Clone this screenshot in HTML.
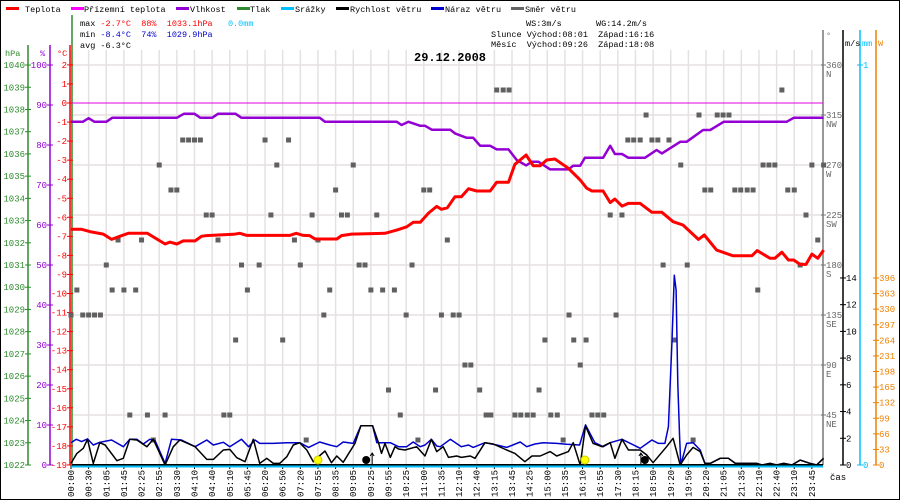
<!DOCTYPE html>
<html><head><meta charset="utf-8">
<style>
html,body{margin:0;padding:0;background:#fff;}
svg{display:block;font-family:"Liberation Mono",monospace;}
svg text{white-space:pre;}
</style></head>
<body>
<svg id="chart" width="900" height="500" viewBox="0 0 900 500" xmlns="http://www.w3.org/2000/svg" xml:space="preserve">
<rect x="0.5" y="0.5" width="899" height="499" fill="#fff" stroke="#000"/>
<g id="grid"></g>
<g id="legend" font-size="8.5">
  <g><rect x="6" y="7" width="13" height="3" fill="#f00"/><text x="25" y="12">Teplota</text></g>
  <g><rect x="71" y="7" width="13" height="3" fill="#f0f"/><text x="84" y="12">Přízemní teplota</text></g>
  <g><rect x="176" y="7" width="13" height="3" fill="#9400d3"/><text x="190" y="12">Vlhkost</text></g>
  <g><rect x="237" y="7" width="13" height="3" fill="#2e8b2e"/><text x="250" y="12">Tlak</text></g>
  <g><rect x="281" y="7" width="13" height="3" fill="#00bfff"/><text x="295" y="12">Srážky</text></g>
  <g><rect x="336" y="7" width="13" height="3" fill="#000"/><text x="350" y="12">Rychlost větru</text></g>
  <g><rect x="431" y="7" width="13" height="3" fill="#00c"/><text x="445" y="12">Náraz větru</text></g>
  <g><rect x="511" y="7" width="13" height="3" fill="#666"/><text x="525" y="12">Směr větru</text></g>
</g>
<g id="stats" font-size="8.5">
  <text x="80" y="26">max <tspan fill="#f00">-2.7°C  88%  1033.1hPa</tspan>   <tspan fill="#00bfff">0.0mm</tspan></text>
  <text x="80" y="37">min <tspan fill="#00c">-8.4°C</tspan>  <tspan fill="#00c">74%  1029.9hPa</tspan></text>
  <text x="80" y="48">avg -6.3°C</text>
  <text x="526" y="26">WS:3m/s</text><text x="596" y="26">WG:14.2m/s</text>
  <text x="491" y="37">Slunce Východ:08:01  Západ:16:16</text>
  <text x="491" y="47">Měsíc  Východ:09:26  Západ:18:08</text>
</g>
<text x="414" y="61" font-size="12" font-weight="bold">29.12.2008</text>
<g id="axes"></g>
<g id="series"></g>
</svg>
<script>
// ---- data (sample index k, ~3 samples per time label) ----
const timeLabels = ["00:00","00:30","01:05","01:45","02:25","02:55","03:30","04:10","04:40","05:10","05:45","06:20","06:50","07:20","07:55","08:35","09:05","09:25","09:55","10:25","11:00","11:35","12:10","12:40","13:15","13:45","14:25","15:00","15:35","16:10","16:55","17:30","18:15","18:50","19:20","19:50","20:20","21:05","21:35","22:10","22:40","23:10","23:45"];
const hpaTicks = [1040,1039,1038,1037,1036,1035,1034,1033,1032,1031,1030,1029,1028,1027,1026,1025,1024,1023,1022];
const humTicks = [100,90,80,70,60,50,40,30,20,10,0];
const tempTicks = [2,1,0,-1,-2,-3,-4,-5,-6,-7,-8,-9,-10,-11,-12,-13,-14,-15,-16,-17,-18,-19];
const dirTicks = [360,315,270,225,180,135,90,45];
const dirNames = ["N","NW","W","SW","S","SE","E","NE"];
const windTicks = [14,12,10,8,6,4,2,0];
const wattTicks = [396,363,330,297,264,231,198,165,132,99,66,33,0];

const tempK = [0,1.8,3.2,5.5,6.9,8.3,9.75,13,16,16.8,18,19.1,21.1,22.2,23,27.6,28.7,29.9,37.2,38.3,39.5,40.6,41.5,45.2,46,47.7,53.4,55.4,57.1,58.2,59.4,60.8,62.2,63,64,65.3,66.4,67.6,69,71.3,72.4,74.4,75.5,77.4,78.6,79.8,80.9,82.3,84.6,86.6,87.7,88.6,90.5,91.7,92.5,93.7,94.8,96.8,98.8,100.5,102.4,104.1,106.7,107.7,109.8,112.6,115.8,116.7,118.9,119.7,120.9,122,122.9,124,125,126,127,128];
const tempV = [-6.63,-6.63,-6.75,-6.88,-7.16,-7.0,-6.84,-6.84,-7.4,-7.3,-7.4,-7.24,-7.24,-7.0,-6.96,-6.89,-6.84,-6.95,-6.95,-6.84,-6.95,-6.96,-7.14,-7.14,-6.96,-6.88,-6.84,-6.67,-6.5,-6.26,-6.26,-5.78,-5.43,-5.58,-5.5,-4.92,-4.92,-4.5,-4.62,-4.62,-4.16,-4.16,-3.22,-2.73,-3.29,-3.29,-2.99,-2.94,-3.43,-4.04,-4.47,-4.62,-4.62,-5.23,-5.04,-5.41,-5.27,-5.27,-5.74,-5.74,-6.23,-6.41,-7.16,-6.93,-7.72,-8.02,-8.02,-7.75,-8.15,-8.15,-7.83,-8.24,-8.24,-8.47,-8.47,-7.93,-8.15,-7.72];

const humK = [0,2,3,4,6,7,18,19.2,21,22,24,25,28,29,42.3,43.2,55.4,56.2,57.4,59.4,60.2,61.4,64.5,65.3,67.3,68.4,69.6,71.3,72.4,74.4,75.8,77.4,78.4,79.5,81.5,84.6,85.4,86.6,87.4,90.5,91.7,92.5,93.7,94.8,97.6,99.6,100.5,103.6,104.7,107.5,108.7,111,121.7,122.9,128];
const humV = [85.8,85.8,86.7,85.8,85.8,86.8,86.8,87.8,87.8,86.8,86.8,87.8,87.8,86.8,86.8,85.8,85.8,85,85.8,84.8,84.8,83.8,83.8,82.9,81.8,81.8,79.8,79.8,78.9,78.9,76.25,74.9,75.8,75.8,73.9,73.9,74.8,74.8,76.8,76.8,79.8,77.75,77.75,76.8,76.8,78.75,77.9,80.8,80.8,83.75,83.75,85.8,85.8,86.8,86.8];

const windK = [0,1,2.1,2.8,3.8,4.9,5.8,7.8,8.9,10,11.2,12.9,14,16,17.4,18.5,21.1,23.1,24.2,25.9,27,28.2,29.6,31,32.1,33.3,34.4,35.5,36.7,37.8,38.9,40.1,41.2,42.1,43.2,44.3,45.2,46.3,48.3,49.3,51.3,52.3,52.8,53.4,54.3,55.1,55.7,56.8,58.8,60.2,61.3,62.2,63.3,64.2,65.6,66.4,67.9,68.7,70.4,71.8,74.1,75.5,77.2,78.4,79.8,81.5,82.6,84.6,85.4,86.6,87.5,88.8,90.3,91.7,92.5,93.7,94.8,96.8,97.9,99,101.3,102.4,103.6,104.7,105.8,107,107.8,108.7,110.4,111.8,113,116.6,117.5,118.9,120,121.2,122.6,124,125.7,126.8,128];
const windV = [0.12,0.87,1.25,1.92,0.12,1.67,1.5,0.32,0.5,1.92,1.87,1.37,1.92,0,1.37,1.87,1.37,0.42,0.42,1.12,1.17,0.55,0.25,1.92,0.12,0.5,0.12,0.12,0.62,1.5,1.67,1.12,0.25,0.62,1.05,0.17,0.67,0.2,1.62,2.94,2.94,1.67,0.87,1.62,0.57,1.37,1.2,1.12,1.37,0.67,1.92,1.0,1.37,0.57,0.67,0.57,0.67,0.5,1.67,1.57,1.12,0.87,0.25,0.67,0.67,1.0,0.67,1.0,1.67,0,2.92,1.62,1.37,1.67,0.5,1.92,1.12,1.12,0.75,0.17,1.37,2.0,0,0.75,1.32,1.0,0.12,0.12,0.5,0.5,0.12,0.12,0,0.12,0,0.12,0,0.37,0.12,0,0.5];

const gustK = [0,0.9,1.8,2.8,3.8,4.9,6.9,8.9,10,11.2,12.3,13.4,14.3,16,17.1,18.8,21.1,23.1,24.2,25.9,27,29,30.2,31.3,32.1,34.4,36.7,38.9,40.4,42.3,44,45.2,46.3,48,49.3,51.3,52,54.3,55.7,57.1,58.2,59.4,60.2,61.3,62.2,62.8,64.5,66.4,67.6,68.4,70.4,72.4,74.1,76.4,77.5,78.9,80.3,82.6,84.3,86.5,87.5,89.1,90.5,91.7,93.7,96.8,98.8,99.9,101,101.6,102.2,102.6,102.9,103.2,103.5,103.7,104.7,105.8,107,107.8,108.7,110.4,111.8,113,116.6,117.5,118.9,120,121.2,122.6,124,125.7,126.8,128];
const gustV = [1.67,1.92,1.75,1.95,1.5,1.7,1.87,1.37,1.92,1.92,1.57,1.92,1.82,0.12,1.92,1.87,1.37,1.87,1.5,1.7,1.37,1.92,1.37,1.87,1.62,1.62,1.67,1.67,1.32,1.72,1.5,1.37,1.72,1.62,2.94,2.94,1.67,1.67,1.37,1.37,1.72,1.37,1.5,1.92,1.42,1.37,1.92,1.37,1.5,1.32,1.67,1.5,1.32,1.72,1.37,1.57,1.67,1.62,1.55,1.5,3.0,1.67,1.37,1.67,1.92,1.25,1.87,1.62,1.62,2.87,9.1,14.2,13.1,6.1,2.12,0,1.62,1.67,1.12,0.12,0.12,0.5,0.5,0.12,0.12,0,0.12,0,0.12,0,0.37,0.12,0,0.5];

const dirK = [0,1,2,3,4,5,6,7,8,9,10,11,12,13,14,15,16,17,18,19,20,21,22,23,24,25,26,27,28,29,30,32,33,34,35,36,37,38,39,40,41,42,43,44,45,46,47,48,49,50,51,52,53,54,55,56,57,58,59,60,61,62,63,64,65,66,67,68,69.5,70.6,71.4,72.4,73.5,74.5,75.5,76.5,77.6,78.6,79.6,80.6,81.6,82.7,83.7,84.7,85.5,86.6,87.6,88.6,89.6,90.6,91.7,92.7,93.7,94.7,95.7,96.8,97.8,98.8,99.8,100.7,101.7,102.7,103.7,104.8,105.8,106.8,107.8,108.8,109.9,110.9,111.9,112.9,113.9,115,116,116.8,117.7,118.7,119.7,120.9,121.9,123,124,125,126,127,128];
const dirV = [135,157.5,135,135,135,135,180,157.5,202.5,157.5,45,157.5,202.5,45,22.5,270,45,247.5,247.5,292.5,292.5,292.5,292.5,225,225,202.5,45,45,112.5,180,157.5,180,292.5,225,270,112.5,292.5,202.5,180,22.5,225,202.5,135,157.5,247.5,225,225,270,180,180,157.5,225,157.5,67.5,157.5,45,135,180,22.5,247.5,247.5,67.5,135,202.5,135,135,90,90,67.5,45,45,337.5,337.5,337.5,45,45,45,45,67.5,112.5,45,45,22.5,135,112.5,90,112.5,45,45,45,225,135,225,292.5,292.5,292.5,315,292.5,292.5,180,292.5,112.5,270,180,22.5,315,247.5,247.5,315,315,315,247.5,247.5,247.5,247.5,157.5,270,270,270,337.5,247.5,247.5,180,225,270,202.5,270];

const sunEvents = [42.0, 87.4];   // sunrise, sunset (sample index)
const moonEvents = [50.2, 97.6];  // moonrise, moonset

// ---- scales ----
const X0 = 71, DX = 5.88;
const xK = k => X0 + k * DX;
const yT = t => 103 - t * 19.05;
const yP = p => 465 - (p - 1022) * 22.22;
const yH = h => 465 - h * 4;
const yD = d => 465 - d * 400 / 360;
const yW = v => 465 - v * 13.36;
const yWatt = w => 465 - w * 187 / 396;

const NS = "http://www.w3.org/2000/svg";
function mk(parent, tag, attrs, txt) {
  const e = document.createElementNS(NS, tag);
  for (const a in attrs) e.setAttribute(a, attrs[a]);
  if (txt !== undefined) e.textContent = txt;
  parent.appendChild(e);
  return e;
}
const grid = document.getElementById('grid');
const axes = document.getElementById('axes');
const series = document.getElementById('series');

timeLabels.forEach((lab, i) => {
  const x = xK(i * 3);
  const l = mk(grid, 'line', {x1: x, x2: x, y1: 50, y2: 465, stroke: '#e6e1e1', 'stroke-width': 1.5});
  
  
  const t = mk(axes, 'text', {transform: `translate(${x + 3},497) rotate(-90)`, 'font-size': 9}, lab);
  
  
  const tk = mk(axes, 'line', {x1: x, x2: x, y1: 465, y2: 469, stroke: '#000'});
  
  
});
dirTicks.forEach(d => {
  const l = mk(grid, 'line', {x1: 71, x2: 823, y1: yD(d), y2: yD(d), stroke: '#e6e1e1', 'stroke-width': 1.5});
  
  
});

function vline(x, y1, y2, c, name, w) {
  const l = mk(axes, 'line', {x1: x, x2: x, y1: y1, y2: y2, stroke: c, 'stroke-width': w || 1.5});
  
  
}
vline(28, 45, 465, '#2e8b2e', 'hpa-axis-line');
vline(50, 45, 465, '#9400d3', 'humidity-axis-line');
vline(70, 45, 465, '#f00', 'temp-axis-line');
vline(72, 15, 465, '#2e8b2e', 'plot-left-border');
vline(823, 30, 465, '#777', 'direction-axis-line');
vline(843, 30, 465, '#000', 'wind-axis-line');
vline(860, 30, 465, '#00bfff', 'precip-axis-line');
vline(876, 30, 465, '#f08000', 'solar-axis-line');

[['hPa',5,56,'#2e8b2e'],['%',40,56,'#9400d3'],['°C',57,56,'#f00'],['°',826,38,'#777'],['m/s',845,46,'#000'],['mm',862,46,'#00bfff'],['W',878,46,'#f08000']].forEach(h => {
  const t = mk(axes, 'text', {x: h[1], y: h[2], fill: h[3], 'font-size': 8.5}, h[0]);
  
  
});

function tickSet(vals, yf, xLine, side, color, name) {
  vals.forEach(v => {
    const y = yf(v);
    const tk = mk(axes, 'line', {x1: xLine - 3, x2: xLine + 3, y1: y, y2: y, stroke: color});
    
    
    const attrs = side === 'L'
      ? {x: xLine - 3, y: y + 3, 'text-anchor': 'end', fill: color, 'font-size': 9}
      : {x: xLine + 3, y: y + 3, fill: color, 'font-size': 9};
    const t = mk(axes, 'text', attrs, String(v));
    
    
  });
}
tickSet(hpaTicks, yP, 28, 'L', '#2e8b2e', 'hpa');
tickSet(humTicks, yH, 50, 'L', '#9400d3', 'humidity');
tickSet(tempTicks, yT, 70, 'L', '#f00', 'temp');
tickSet(windTicks, yW, 843, 'R', '#000', 'wind');
tickSet([1], () => 65, 860, 'R', '#00bfff', 'precip');
tickSet([0], () => 465, 860, 'R', '#00bfff', 'precip');
tickSet(wattTicks, yWatt, 876, 'R', '#f08000', 'solar');
dirTicks.forEach((d, i) => {
  const y = yD(d);
  const tk = mk(axes, 'line', {x1: 821, x2: 826, y1: y, y2: y, stroke: '#777'});
  
  
  const t = mk(axes, 'text', {x: 826, y: y + 3, fill: '#666', 'font-size': 9}, String(d));
  
  
  const n = mk(axes, 'text', {x: 826, y: y + 12, fill: '#666', 'font-size': 9}, dirNames[i]);
  
  
});
const cas = mk(axes, 'text', {x: 830, y: 480, 'font-size': 9}, 'čas');



const gl = mk(series, 'line', {x1: 72, x2: 823, y1: yT(0), y2: yT(0), stroke: '#e000e0', 'stroke-width': 1});



dirK.forEach((k, i) => {
  const r = mk(series, 'rect', {x: xK(k) - 2.5, y: yD(dirV[i]) - 2.5, width: 5, height: 5, fill: '#606060'});
  
  
});

function poly(ks, vs, yf, color, w, name) {
  const pts = ks.map((k, i) => xK(k).toFixed(1) + ',' + yf(vs[i]).toFixed(1)).join(' ');
  const p = mk(series, 'polyline', {points: pts, fill: 'none', stroke: color, 'stroke-width': w, 'stroke-linejoin': 'round'});
  
  
}
poly(humK, humV, yH, '#9400d3', 2.5, 'humidity-line');
poly(gustK, gustV, yW, '#0000cc', 1.5, 'wind-gust-line');
poly(windK, windV, yW, '#000', 1.5, 'wind-speed-line');
poly(tempK, tempV, yT, '#f00', 3, 'temperature-line');

const bl = mk(series, 'line', {x1: 72, x2: 823, y1: 465, y2: 465, stroke: '#000', 'stroke-width': 2});


const pl = mk(series, 'line', {x1: 72, x2: 823, y1: 466.5, y2: 466.5, stroke: '#00bfff', 'stroke-width': 2});



sunEvents.forEach(k => {
  const c = mk(series, 'circle', {cx: xK(k), cy: 460, r: 4, fill: '#ff0', stroke: '#cc0'});
  
  
});
moonEvents.forEach((k, i) => {
  const c = mk(series, 'circle', {cx: xK(k), cy: 460, r: 4, fill: '#000'});
  
  
  const ax = xK(k) + (i === 0 ? 6 : -4);
  const a = mk(series, 'path', {d: `M${ax},465 L${ax},453 M${ax - 2},456 L${ax},453 L${ax + 2},456`, stroke: '#000', fill: 'none', 'stroke-width': 1});
  
  
});
</script>
</body></html>
